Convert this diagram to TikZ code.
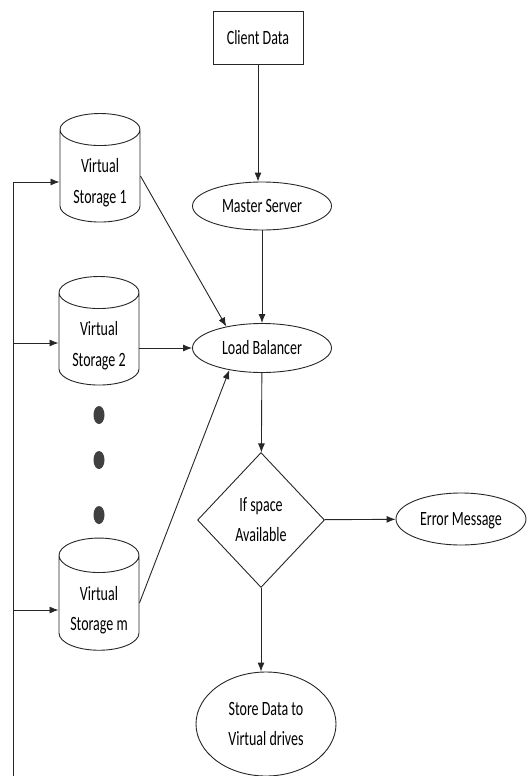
\documentclass[tikz,border=0pt]{standalone}
\usepackage{fontspec}
\setmainfont{Carlito}
\usetikzlibrary{arrows.meta}
\usetikzlibrary{calc}
\usetikzlibrary{shapes.geometric}

\newcommand{\tallcell}[1]{\scalebox{1}[1.45]{\begin{tabular}{@{}c@{}}#1\end{tabular}}}
\newcommand{\drumtext}[1]{\raisebox{-6pt}[\height][\depth]{\tallcell{#1}}}

\begin{document}
\begin{tikzpicture}[x=1pt, y=-1pt,
    font=\fontsize{14}{20.7}\selectfont,
    line width=0.9pt, draw=black!85,
    arr/.style={-{Latex[length=9pt,width=7pt]}},
    box/.style={draw, rectangle, minimum width=90, minimum height=53, inner sep=0},
    oval/.style={draw, ellipse, minimum width=139, minimum height=48, inner sep=0},
    cyl/.style={draw, cylinder, shape border rotate=90, aspect=0.6,
      minimum width=80, minimum height=108, inner sep=0},
    decide/.style={draw, diamond, minimum width=127, minimum height=135, inner sep=0}]

      \useasboundingbox (0,0) rectangle (527,776);

      \node[box] (client) at (258,38) {\tallcell{Client Data}};
      \node[oval] (master) at (262,206) {\tallcell{Master Server}};
      \node[oval, minimum height=49] (lb) at (262,348) {\tallcell{Load Balancer}};
      \node[decide] (dia) at (261,520) {\tallcell{If space\\Available}};
      \node[oval, minimum width=130, minimum height=52] (err) at (461,519) {\tallcell{Error Message}};
      \node[oval, minimum width=140, minimum height=104] (store) at (266,724) {\tallcell{Store Data to\\Virtual drives}};

      \node[cyl] (vs1) at (100,176) {\drumtext{Virtual\\Storage 1}};
      \node[cyl] (vs2) at (99,339) {\drumtext{Virtual\\Storage 2}};
      \node[cyl, minimum height=110] (vsm) at (99,603) {\drumtext{Virtual\\Storage m}};

      % dots between storage 2 and storage m
      \foreach \y in {415, 460, 515}
      \fill[black!75] (99,\y) ellipse (5.5 and 9);

      % feed line on the left
      \coordinate (bot) at (13,776);
      \coordinate (j1) at (13,182);
      \coordinate (j2) at (13,343);
      \coordinate (j3) at (13,610);
      \draw (bot) -- (j1);
      \draw[arr] (j1) -- (j1 -| vs1.west);
      \draw[arr] (j2) -- (j2 -| vs2.west);
      \draw[arr] (j3) -- (j3 -| vsm.west);

      \draw[arr] (client.south -| 258,0) -- (master.north -| 258,0);
      \draw[arr] (master) -- (lb);
      \draw[arr] (vs1.east) -- (lb.149);
      \draw[arr] (vs2.east |- lb.west) -- (lb.west);
      \draw[arr] (vsm.east) -- (lb.214);
      \draw[arr] (lb) -- (dia);
      \draw[arr] (dia) -- (err);
      \draw[arr] (dia.south) -- (dia.south |- store.north);
    \end{tikzpicture}
\end{document}
